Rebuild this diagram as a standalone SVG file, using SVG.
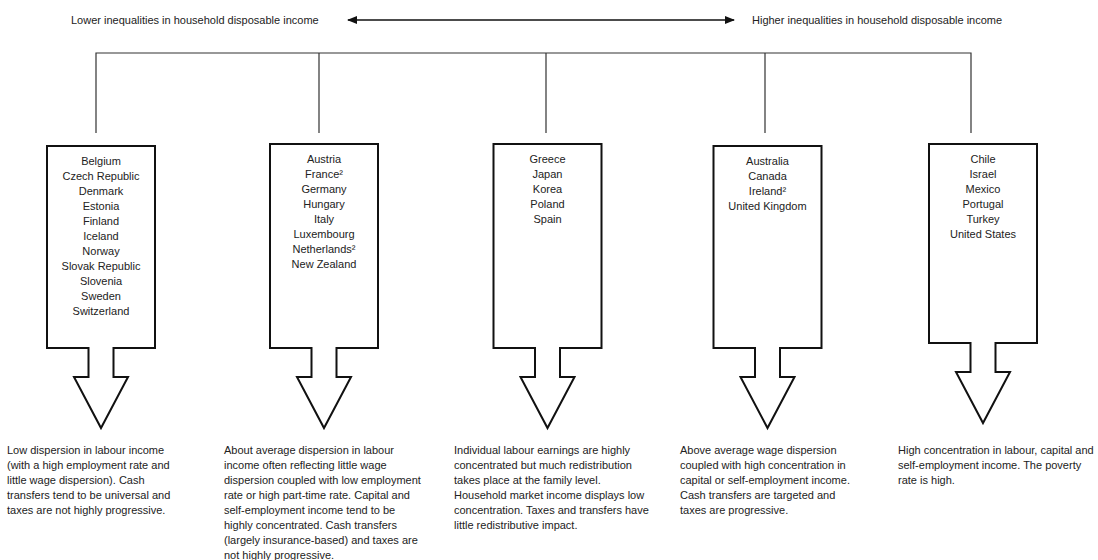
<svg xmlns="http://www.w3.org/2000/svg" width="1098" height="560" viewBox="0 0 1098 560">
<style>
  text { font-family: "Liberation Sans", Arial, sans-serif; font-size: 11px; fill: #222; }
  .c { text-anchor: middle; }
  .shape { fill: #fff; stroke: #111; stroke-width: 2; stroke-linejoin: miter; }
  .conn { stroke: #333; stroke-width: 1.2; fill: none; }
</style>
<defs>
  <marker id="ah" viewBox="0 0 10 8" refX="9" refY="4" markerWidth="10" markerHeight="8" markerUnits="userSpaceOnUse" orient="auto-start-reverse">
    <path d="M0,0 L10,4 L0,8 z" fill="#111"/>
  </marker>
</defs>
<rect width="1098" height="560" fill="#fff"/>

<g id="scale">
  <text x="71" y="24">Lower inequalities in household disposable income</text>
  <text x="752" y="24">Higher inequalities in household disposable income</text>
  <line x1="348" y1="20" x2="734" y2="20" stroke="#111" stroke-width="1.5" marker-start="url(#ah)" marker-end="url(#ah)"/>
</g>

<g id="connectors">
  <path class="conn" d="M96,133 V53 H971 V133 M319,53 V133 M546,53 V133 M765,53 V133"/>
</g>

<g id="group1">
  <polygon class="shape" points="47,146 155,146 155,348 113.5,348 113.5,377 128,377 101,428 74,377 88.5,377 88.5,348 47,348"/>
  <text class="c" x="101" y="165">Belgium</text>
  <text class="c" x="101" y="180">Czech Republic</text>
  <text class="c" x="101" y="195">Denmark</text>
  <text class="c" x="101" y="210">Estonia</text>
  <text class="c" x="101" y="225">Finland</text>
  <text class="c" x="101" y="240">Iceland</text>
  <text class="c" x="101" y="255">Norway</text>
  <text class="c" x="101" y="270">Slovak Republic</text>
  <text class="c" x="101" y="285">Slovenia</text>
  <text class="c" x="101" y="300">Sweden</text>
  <text class="c" x="101" y="315">Switzerland</text>
  <text x="7" y="454">Low dispersion in labour income</text>
  <text x="7" y="469">(with a high employment rate and</text>
  <text x="7" y="484">little wage dispersion). Cash</text>
  <text x="7" y="499">transfers tend to be universal and</text>
  <text x="7" y="514">taxes are not highly progressive.</text>
</g>

<g id="group2">
  <polygon class="shape" points="270,144 378,144 378,348 336.5,348 336.5,377 351,377 324,428 297,377 311.5,377 311.5,348 270,348"/>
  <text class="c" x="324" y="163">Austria</text>
  <text class="c" x="324" y="178">France²</text>
  <text class="c" x="324" y="193">Germany</text>
  <text class="c" x="324" y="208">Hungary</text>
  <text class="c" x="324" y="223">Italy</text>
  <text class="c" x="324" y="238">Luxembourg</text>
  <text class="c" x="324" y="253">Netherlands²</text>
  <text class="c" x="324" y="268">New Zealand</text>
  <text x="224" y="454">About average dispersion in labour</text>
  <text x="224" y="469">income often reflecting little wage</text>
  <text x="224" y="484">dispersion coupled with low employment</text>
  <text x="224" y="499">rate or high part-time rate. Capital and</text>
  <text x="224" y="514">self-employment income tend to be</text>
  <text x="224" y="529">highly concentrated. Cash transfers</text>
  <text x="224" y="544">(largely insurance-based) and taxes are</text>
  <text x="224" y="559">not highly progressive.</text>
</g>

<g id="group3">
  <polygon class="shape" points="493.5,144 601.5,144 601.5,348 560,348 560,377 574.5,377 547.5,428 520.5,377 535,377 535,348 493.5,348"/>
  <text class="c" x="547.5" y="163">Greece</text>
  <text class="c" x="547.5" y="178">Japan</text>
  <text class="c" x="547.5" y="193">Korea</text>
  <text class="c" x="547.5" y="208">Poland</text>
  <text class="c" x="547.5" y="223">Spain</text>
  <text x="454" y="454">Individual labour earnings are highly</text>
  <text x="454" y="469">concentrated but much redistribution</text>
  <text x="454" y="484">takes place at the family level.</text>
  <text x="454" y="499">Household market income displays low</text>
  <text x="454" y="514">concentration. Taxes and transfers have</text>
  <text x="454" y="529">little redistributive impact.</text>
</g>

<g id="group4">
  <polygon class="shape" points="713.5,146 821.5,146 821.5,348 780,348 780,377 794.5,377 767.5,428 740.5,377 755,377 755,348 713.5,348"/>
  <text class="c" x="767.5" y="165">Australia</text>
  <text class="c" x="767.5" y="180">Canada</text>
  <text class="c" x="767.5" y="195">Ireland²</text>
  <text class="c" x="767.5" y="210">United Kingdom</text>
  <text x="680" y="454">Above average wage dispersion</text>
  <text x="680" y="469">coupled with high concentration in</text>
  <text x="680" y="484">capital or self-employment income.</text>
  <text x="680" y="499">Cash transfers are targeted and</text>
  <text x="680" y="514">taxes are progressive.</text>
</g>

<g id="group5">
  <polygon class="shape" points="929,144 1037,144 1037,343 995.5,343 995.5,372 1010,372 983,423 956,372 970.5,372 970.5,343 929,343"/>
  <text class="c" x="983" y="163">Chile</text>
  <text class="c" x="983" y="178">Israel</text>
  <text class="c" x="983" y="193">Mexico</text>
  <text class="c" x="983" y="208">Portugal</text>
  <text class="c" x="983" y="223">Turkey</text>
  <text class="c" x="983" y="238">United States</text>
  <text x="898" y="454">High concentration in labour, capital and</text>
  <text x="898" y="469">self-employment income. The poverty</text>
  <text x="898" y="484">rate is high.</text>
</g>
</svg>
